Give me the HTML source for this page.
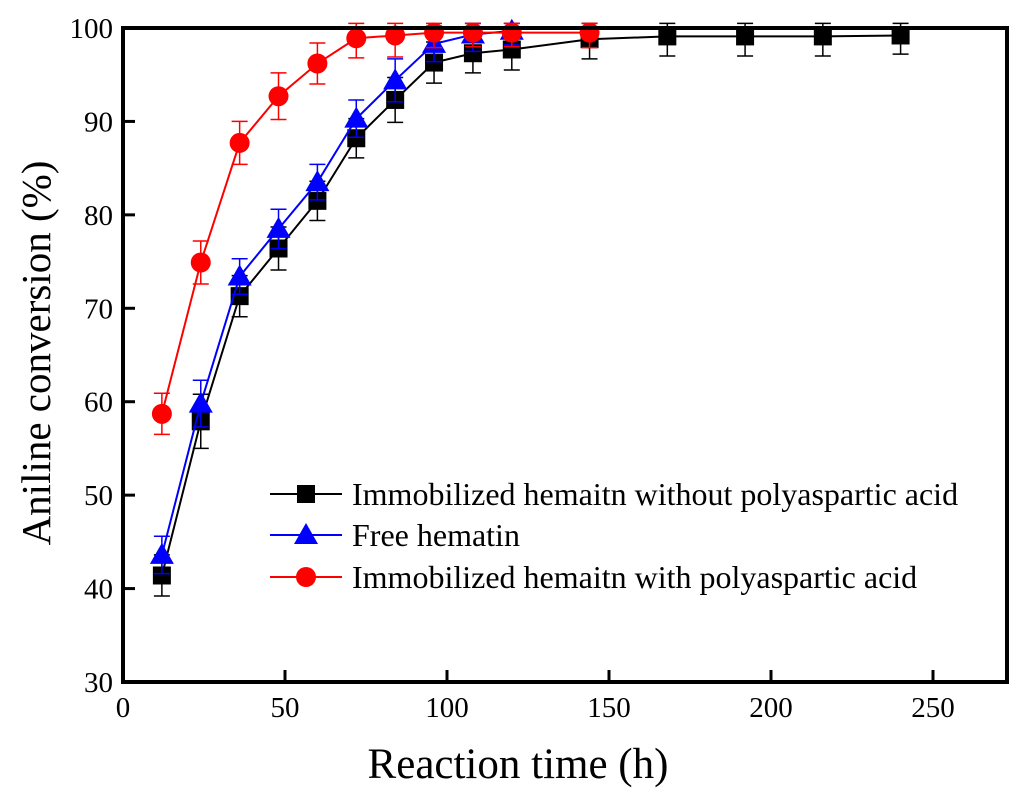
<!DOCTYPE html>
<html><head><meta charset="utf-8"><style>
body{margin:0;background:#fff}
svg{display:block;font-family:"Liberation Serif",serif}
</style></head><body>
<svg id="chart" width="1024" height="797"></svg>
<script>
const xsBlack=[12,24,36,48,60,72,84,96,108,120,144,168,192,216,240];
const ysBlack=[41.4,57.9,71.3,76.4,81.5,88.2,92.3,96.3,97.3,97.7,98.8,99.1,99.1,99.1,99.2];
const errBlack=[2.2,2.9,2.2,2.3,2.1,2.1,2.4,2.2,2.1,2.2,2.1,2.1,2.1,2.1,2.0];
const xsBlue=[12,24,36,48,60,72,84,96,108,120];
const ysBlue=[43.6,59.8,73.4,78.5,83.5,90.3,94.4,98.3,99.3,99.7];
const errBlue=[2.0,2.5,1.9,2.1,1.9,2.0,2.3,1.9,1.8,1.5];
const xsRed=[12,24,36,48,60,72,84,96,108,120,144];
const ysRed=[58.7,74.9,87.7,92.7,96.2,98.9,99.2,99.5,99.5,99.5,99.5];
const errRed=[2.2,2.3,2.3,2.5,2.2,2.1,2.3,1.6,1.5,1.5,1.6];
const xTicks=[0,50,100,150,200,250];
const yTicks=[30,40,50,60,70,80,90,100];
const legendLabels=["Immobilized hemaitn without polyaspartic acid","Free hematin","Immobilized hemaitn with polyaspartic acid"];

const L=123,R=1007,T=28,B=682;
const X=v=>L+v*(933-123)/250;
const Y=v=>B-(v-30)*(B-T)/70;
const svg=document.getElementById('chart');
const NS='http://www.w3.org/2000/svg';
function mk(tag,attrs,parent){const e=document.createElementNS(NS,tag);for(const k in attrs)e.setAttribute(k,attrs[k]);(parent||svg).appendChild(e);return e;}

xTicks.forEach(t=>{
  if(t>0){const tk=mk('line',{x1:X(t),x2:X(t),y1:B,y2:B-12,stroke:'#000','stroke-width':3});
  
  }
  const tl=mk('text',{x:X(t),y:B+35,'font-size':29,'text-anchor':'middle'});tl.textContent=t;
  
  
});
yTicks.forEach(t=>{
  if(t>30&&t<100){const tk=mk('line',{x1:L,x2:L+12,y1:Y(t),y2:Y(t),stroke:'#000','stroke-width':3});
  
  }
  const tl=mk('text',{x:L-10,y:Y(t)+10,'font-size':29,'text-anchor':'end'});tl.textContent=t;
  
  
});

function series(xs,ys,errs,color,shape,name){
  const g=mk('g',{});
  
  
  errs.forEach((e,i)=>{
    const x=X(xs[i]),y1=Y(ys[i]-e),y2=Y(Math.min(ys[i]+e,100.5));
    const eb=mk('path',{d:`M${x},${y1}V${y2}M${x-8},${y1}H${x+8}M${x-8},${y2}H${x+8}`,stroke:color,'stroke-width':1.5,fill:'none'},g);
    
    
  });
  const ln=mk('polyline',{points:xs.map((x,i)=>X(x)+','+Y(ys[i])).join(' '),stroke:color,'stroke-width':2,fill:'none'},g);
  
  
  xs.forEach((x,i)=>{
    const m=marker(X(x),Y(ys[i]),shape,color,g);
    
    
  });
}
function marker(x,y,shape,color,g){
  if(shape==='sq')return mk('rect',{x:x-9,y:y-9,width:18,height:18,fill:color},g);
  if(shape==='tri')return mk('polygon',{points:`${x},${y-12} ${x-12},${y+9} ${x+12},${y+9}`,fill:color},g);
  return mk('circle',{cx:x,cy:y,r:10,fill:color},g);
}
series(xsBlack,ysBlack,errBlack,'#000','sq','series-without-polyaspartic');
series(xsBlue,ysBlue,errBlue,'#0000ff','tri','series-free-hematin');
series(xsRed,ysRed,errRed,'#ff0000','circ','series-with-polyaspartic');

const fr=mk('rect',{x:L,y:T,width:R-L,height:B-T,fill:'none',stroke:'#000','stroke-width':4});



const cols=['#000','#0000ff','#ff0000'],shapes=['sq','tri','circ'],ly=[494,535,577];
legendLabels.forEach((lab,i)=>{
  const g=mk('g',{});
  
  
  mk('line',{x1:270,x2:342,y1:ly[i],y2:ly[i],stroke:cols[i],'stroke-width':2},g);
  marker(306,ly[i],shapes[i],cols[i],g);
  const t=mk('text',{x:352,y:ly[i]+11,'font-size':32},g);t.textContent=lab;
});

const xt=mk('text',{x:518,y:778,'font-size':43,'text-anchor':'middle'});xt.textContent='Reaction time (h)';


const yt=mk('text',{x:0,y:0,'font-size':41,'text-anchor':'middle',transform:'translate(50,353) rotate(-90)'});yt.textContent='Aniline conversion (%)';


</script>
</body></html>
